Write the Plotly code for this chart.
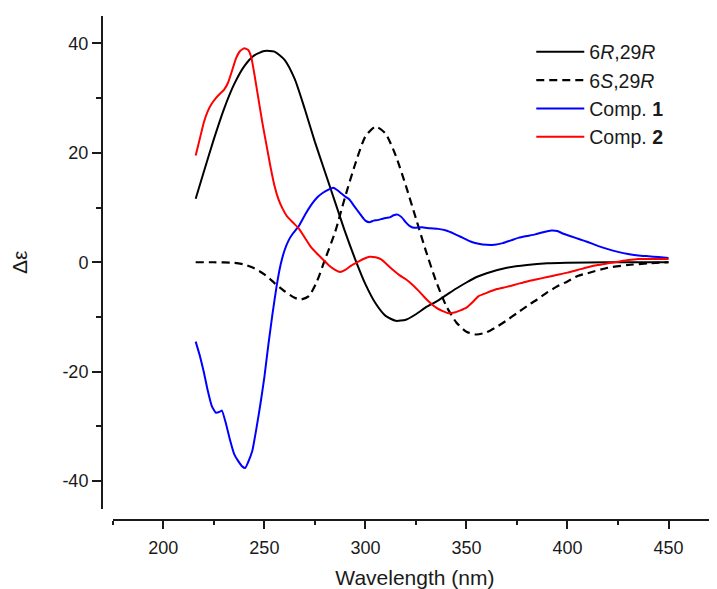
import plotly.graph_objects as go

# ---- data ----
wl_R = [216, 220, 225, 230, 235, 240, 245, 250, 255, 260, 265, 270, 275, 280, 285, 290, 295,
        300, 305, 310, 315, 320, 325, 330, 335, 340, 345, 350, 355, 360, 370, 380, 390, 400,
        420, 450]
ce_R = [11.6, 16.5, 22.5, 28.0, 32.5, 35.8, 37.8, 38.6, 38.5, 37.0, 33.5, 28.0, 22.0, 16.5,
        11.0, 5.5, 0.5, -4.0, -7.5, -9.8, -10.7, -10.5, -9.5, -8.2, -7.2, -6.0, -4.8, -3.7,
        -2.7, -2.0, -1.0, -0.5, -0.2, -0.1, 0.0, 0.0]

wl_S = [216, 225, 235, 240, 245, 250, 255, 260, 265, 268, 272, 276, 280, 285, 290, 295, 300,
        305, 310, 315, 320, 325, 330, 335, 340, 345, 350, 355, 360, 365, 370, 375, 380, 385,
        390, 395, 400, 405, 410, 420, 430, 440, 450]
ce_S = [0.0, 0.0, -0.1, -0.4, -1.1, -2.2, -3.8, -5.3, -6.5, -6.8, -6.2, -3.5, 0.5, 5.5, 12.0,
        18.0, 23.0, 24.8, 23.5, 19.5, 14.0, 8.0, 2.0, -3.5, -8.0, -11.0, -12.7, -13.2, -12.8,
        -11.8, -10.6, -9.3, -8.0, -6.8, -5.5, -4.4, -3.5, -2.5, -2.0, -1.0, -0.5, -0.2, 0.0]

wl_1 = [216, 218, 220, 222, 224, 226, 228, 229, 231, 233, 235, 237, 239, 240.5, 242, 244, 246,
        248, 250, 252, 254, 256, 258, 260, 262, 264, 267, 270, 273, 276, 279, 282, 284, 286,
        288, 290, 292, 294, 296, 298, 300, 302, 304, 306, 308, 310, 312, 314, 316, 318, 320,
        322, 324, 328, 332, 336, 340, 344, 348, 352, 356, 360, 364, 368, 372, 376, 380, 384,
        388, 392, 395, 398, 402, 406, 410, 415, 420, 425, 430, 435, 440, 445, 450]
ce_1 = [-14.5, -17.0, -20.0, -23.5, -26.3, -27.5, -27.3, -27.1, -29.5, -32.5, -35.0, -36.3,
        -37.3, -37.6, -36.5, -34.5, -30.5, -26.0, -21.0, -15.0, -9.5, -4.5, -0.5, 2.2, 4.0,
        5.2, 6.6, 8.6, 10.4, 11.8, 12.7, 13.3, 13.6, 13.2, 12.6, 12.0, 11.5, 10.5, 9.5, 8.5,
        7.6, 7.3, 7.6, 7.7, 7.9, 8.1, 8.2, 8.6, 8.7, 8.2, 7.3, 6.6, 6.3, 6.4, 6.2, 6.1, 5.8,
        5.2, 4.5, 3.8, 3.4, 3.2, 3.2, 3.5, 4.0, 4.5, 4.8, 5.1, 5.5, 5.8, 5.7, 5.2, 4.7, 4.2,
        3.7, 3.0, 2.4, 1.9, 1.5, 1.25, 1.1, 0.95, 0.8]

wl_2 = [216, 218, 220, 222, 224, 226, 228, 230, 232, 234, 236, 238, 240, 242, 243.5, 245, 247,
        249, 251, 253, 255, 257, 259, 261, 264, 267, 270, 273, 276, 279, 282, 285, 287.5, 290,
        293, 296, 299, 302, 305, 308, 311, 314, 317, 320, 323, 326, 329, 332, 335, 338, 341,
        344, 347, 350, 353, 356, 360, 365, 370, 375, 380, 385, 390, 395, 400, 405, 410, 415,
        420, 425, 430, 435, 440, 445, 450]
ce_2 = [19.5, 22.5, 25.5, 27.6, 29.0, 30.0, 30.8, 31.5, 32.8, 35.0, 37.3, 38.6, 39.1, 38.8,
        37.5, 34.5, 30.0, 25.5, 21.5, 17.5, 14.0, 11.5, 9.8, 8.5, 7.3, 6.2, 4.5, 2.8, 1.6,
        0.5, -0.6, -1.4, -1.8, -1.4, -0.6, 0.0, 0.6, 1.0, 0.9, 0.5, -0.5, -1.5, -2.4, -3.1,
        -4.0, -5.1, -6.3, -7.4, -8.3, -8.9, -9.3, -9.2, -8.8, -8.3, -7.3, -6.2, -5.6, -4.9,
        -4.5, -4.0, -3.5, -3.1, -2.7, -2.3, -1.9, -1.4, -0.9, -0.5, -0.2, 0.1, 0.4, 0.6, 0.6,
        0.6, 0.6]

names = ["6<i>R</i>,29<i>R</i>", "6<i>S</i>,29<i>R</i>", "Comp. <b>1</b>", "Comp. <b>2</b>"]
x_ticks = [200, 250, 300, 350, 400, 450]
y_ticks = [-40, -20, 0, 20, 40]
y_tick_text = ["-40", "-20", "0", "20", "40"]

FONT = "Liberation Sans, Arial, sans-serif"
AX = "#1a1a1a"

fig = go.Figure()
fig.add_trace(go.Scatter(x=wl_R, y=ce_R, mode="lines", name=names[0],
                         line=dict(color="#000000", width=2, shape="spline", smoothing=0.6)))
fig.add_trace(go.Scatter(x=wl_S, y=ce_S, mode="lines", name=names[1],
                         line=dict(color="#000000", width=2.2, dash="8px,5px",
                                   shape="spline", smoothing=0.6)))
fig.add_trace(go.Scatter(x=wl_1, y=ce_1, mode="lines", name=names[2],
                         line=dict(color="#0000FF", width=2, shape="spline", smoothing=0.4)))
fig.add_trace(go.Scatter(x=wl_2, y=ce_2, mode="lines", name=names[3],
                         line=dict(color="#FF0000", width=2, shape="spline", smoothing=0.4)))

fig.update_layout(
    width=709, height=581,
    margin=dict(l=94, r=0, t=8, b=69),
    paper_bgcolor="white", plot_bgcolor="white",
    font=dict(family=FONT, size=18, color=AX),
    showlegend=True,
    legend=dict(x=0.698, y=0.967, xanchor="left", yanchor="top",
                bgcolor="rgba(0,0,0,0)", font=dict(size=19.5, color="#1a1a1a"),
                itemwidth=48, tracegroupgap=0),
    xaxis=dict(domain=[0.0176, 1], range=[175, 474], anchor="free", position=0,
               showline=True, linewidth=2, linecolor=AX, mirror=False,
               ticks="outside", ticklen=8, tickwidth=2, tickcolor=AX,
               tickvals=x_ticks, showgrid=False, zeroline=False,
               minor=dict(ticks="outside", ticklen=4, tickwidth=2, tickcolor=AX,
                          dtick=25, tick0=175, showgrid=False),
               tickfont=dict(size=18), ticklabelstandoff=3,
               title=dict(text="Wavelength (nm)", font=dict(size=21), standoff=13)),
    yaxis=dict(domain=[0.0228, 1], range=[-45, 45], anchor="free", position=0,
               showline=True, linewidth=2, linecolor=AX,
               ticks="outside", ticklen=9, tickwidth=2, tickcolor=AX,
               tickvals=y_ticks, ticktext=y_tick_text, showgrid=False, zeroline=False,
               minor=dict(ticks="outside", ticklen=5, tickwidth=2, tickcolor=AX,
                          dtick=10, tick0=0, showgrid=False),
               tickfont=dict(size=18),
               title=dict(text="Δε", font=dict(size=21), standoff=29)),
)

fig.write_html("out.html")
